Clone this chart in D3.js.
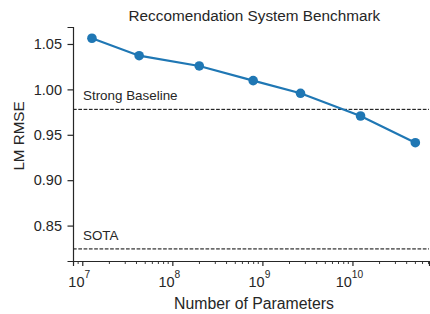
<!DOCTYPE html>
<html>
<head>
<meta charset="utf-8">
<script src="https://cdn.jsdelivr.net/npm/d3@7"></script>
<style>
  body { margin: 0; background: #fff; }
  svg text { font-family: "Liberation Sans", Arial, sans-serif; fill: #262626; }
</style>
</head>
<body>
<div id="chart"></div>
<script>
// data
var params = [1.28e7, 4.28e7, 1.99e8, 7.9e8, 2.65e9, 1.23e10, 4.99e10];
var rmse = [1.0563, 1.0371, 1.0258, 1.0096, 0.9957, 0.9707, 0.9413];
var refNames = ['Strong Baseline', 'SOTA'];
var refValues = [0.978, 0.8243];
var yTicks = [0.85, 0.90, 0.95, 1.00, 1.05];
var xTicks = [1e7, 1e8, 1e9, 1e10];

var width = 430, height = 314;
var margin = { left: 73, right: 1, top: 27, bottom: 53 };

var svg = d3.select('#chart')
            .append('svg')
            .attr('width', width)
            .attr('height', height);

var x = d3.scaleLog()
          .domain([Math.pow(10, 6.897), Math.pow(10, 10.85)])
          .range([margin.left, width - margin.right]);
var y = d3.scaleLinear()
          .domain([0.811, 1.0687])
          .range([height - margin.bottom, margin.top]);

var ink = '#262626';

// reference lines
refValues.forEach(function (v, i) {
	svg.append('line')
	   .attr('x1', margin.left).attr('x2', width - margin.right)
	   .attr('y1', y(v)).attr('y2', y(v))
	   .attr('stroke', '#000')
	   .attr('stroke-width', 1)
	   .attr('stroke-dasharray', '3.7,1.6');
	svg.append('text')
	   .attr('x', 83)
	   .attr('y', y(v) - 9.2)
	   .attr('font-size', 13.4)
	   .text(refNames[i]);
});

// y axis
var yAxis = svg.append('g')
               .attr('transform', 'translate(' + margin.left + ',0)')
               .call(d3.axisLeft(y).tickValues(yTicks).tickFormat(d3.format('.2f')).tickSize(5.5).tickPadding(5.5));
yAxis.select('.domain').attr('stroke', ink).attr('stroke-width', 1.2);
yAxis.selectAll('.tick line').attr('stroke', ink).attr('stroke-width', 1.2);
yAxis.selectAll('.tick text').attr('font-size', 14.5).attr('fill', ink)
     .style('font-family', '"Liberation Sans", Arial, sans-serif');

// x axis, minor ticks first
var minor = [];
for (var e = 6; e <= 10; e++) {
	for (var m = 2; m <= 9; m++) {
		var v = m * Math.pow(10, e);
		if (v >= x.domain()[0] && v <= x.domain()[1]) minor.push(v);
	}
}
var xg = svg.append('g').attr('transform', 'translate(0,' + (height - margin.bottom) + ')');
xg.selectAll('line.minor')
  .data(minor)
  .enter()
  .append('line')
  .attr('class', 'minor')
  .attr('x1', function (d) { return x(d); })
  .attr('x2', function (d) { return x(d); })
  .attr('y1', 0).attr('y2', 3)
  .attr('stroke', ink).attr('stroke-width', 0.9);
var xAxis = xg.append('g')
              .call(d3.axisBottom(x).tickValues(xTicks).tickFormat('').tickSize(5));
xAxis.select('.domain').attr('stroke', ink).attr('stroke-width', 1.2);
xAxis.selectAll('.tick line').attr('stroke', ink).attr('stroke-width', 1.2);

xg.selectAll('text.xl')
  .data(xTicks)
  .enter()
  .append('text')
  .attr('class', 'xl')
  .attr('x', function (d) { return x(d) - 3; })
  .attr('y', 26.3)
  .attr('text-anchor', 'middle')
  .attr('font-size', 14.5)
  .each(function (d) {
	  var t = d3.select(this);
	  t.append('tspan').text('10');
	  t.append('tspan').attr('dy', -9.5).attr('font-size', 10.2).text(Math.round(Math.log10(d)));
  });

// axis labels
svg.append('text')
   .attr('x', 254)
   .attr('y', 309)
   .attr('text-anchor', 'middle')
   .attr('font-size', 15.8)
   .text('Number of Parameters');
svg.append('text')
   .attr('transform', 'translate(24,136) rotate(-90)')
   .attr('text-anchor', 'middle')
   .attr('font-size', 15.2)
   .text('LM RMSE');

// title
svg.append('text')
   .attr('x', 254.4)
   .attr('y', 20.7)
   .attr('text-anchor', 'middle')
   .attr('font-size', 15.3)
   .text('Reccomendation System Benchmark');

// series
var pts = params.map(function (p, i) { return [p, rmse[i]]; });
svg.append('path')
   .datum(pts)
   .attr('fill', 'none')
   .attr('stroke', '#1f77b4')
   .attr('stroke-width', 2.2)
   .attr('d', d3.line().x(function (d) { return x(d[0]); }).y(function (d) { return y(d[1]); }));
svg.selectAll('circle')
   .data(pts)
   .enter()
   .append('circle')
   .attr('cx', function (d) { return x(d[0]); })
   .attr('cy', function (d) { return y(d[1]); })
   .attr('r', 4.8)
   .attr('fill', '#1f77b4');
</script>
</body>
</html>
